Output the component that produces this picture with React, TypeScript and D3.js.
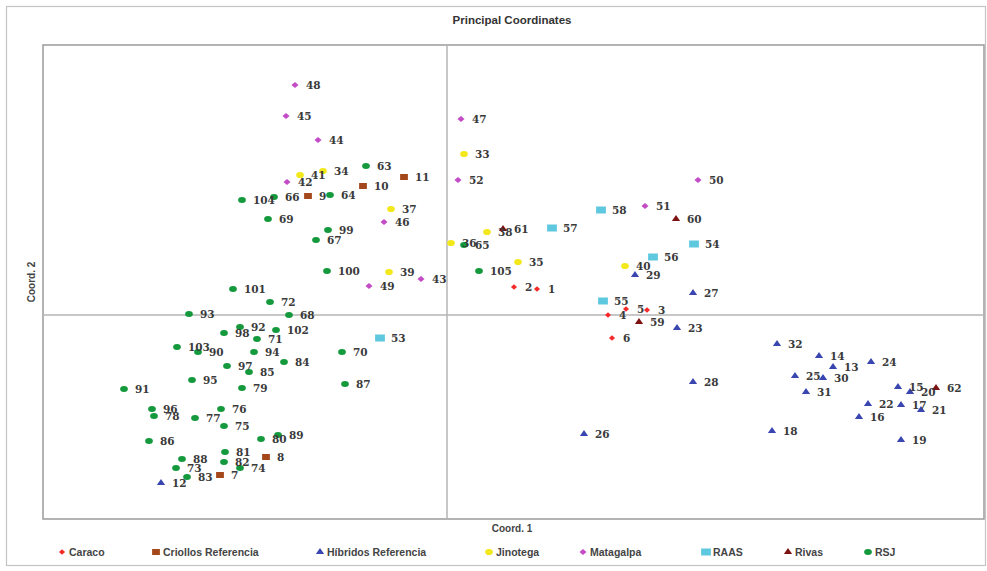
import React from 'react';
import * as d3 from 'd3';

type Pt = [string, number, number];

// Coord. 1, Coord. 2 values
const caraco: Pt[] = [
  ['1', 0.090, 0.026], ['2', 0.067, 0.028], ['3', 0.200, 0.005],
  ['4', 0.161, 0.000], ['5', 0.179, 0.006], ['6', 0.165, -0.023],
];
const criollos: Pt[] = [
  ['7', -0.227, -0.160], ['8', -0.181, -0.142], ['9', -0.139, 0.119],
  ['10', -0.084, 0.129], ['11', -0.043, 0.138],
];
const hibridos: Pt[] = [
  ['12', -0.286, -0.168], ['13', 0.386, -0.052], ['14', 0.372, -0.041],
  ['15', 0.451, -0.072], ['16', 0.412, -0.102], ['17', 0.454, -0.090],
  ['18', 0.325, -0.116], ['19', 0.454, -0.125], ['20', 0.463, -0.077],
  ['21', 0.474, -0.095], ['22', 0.421, -0.089], ['23', 0.230, -0.013],
  ['24', 0.424, -0.047], ['25', 0.348, -0.061], ['26', 0.137, -0.119],
  ['27', 0.246, 0.022], ['28', 0.246, -0.067], ['29', 0.188, 0.040],
  ['30', 0.376, -0.063], ['31', 0.359, -0.077], ['32', 0.330, -0.029],
];
const jinotega: Pt[] = [
  ['33', 0.017, 0.161], ['34', -0.124, 0.144], ['35', 0.071, 0.053],
  ['36', 0.004, 0.072], ['37', -0.056, 0.106], ['38', 0.040, 0.083],
  ['39', -0.058, 0.043], ['40', 0.178, 0.049], ['41', -0.147, 0.140],
];
const matagalpa: Pt[] = [
  ['42', -0.160, 0.133], ['43', -0.026, 0.036], ['44', -0.129, 0.175],
  ['45', -0.161, 0.199], ['46', -0.063, 0.093], ['47', 0.014, 0.196],
  ['48', -0.152, 0.230], ['49', -0.078, 0.029], ['50', 0.251, 0.135],
  ['51', 0.198, 0.109], ['52', 0.011, 0.135],
];
const raas: Pt[] = [
  ['53', -0.067, -0.023], ['54', 0.247, 0.071], ['55', 0.156, 0.014],
  ['56', 0.206, 0.058], ['57', 0.105, 0.087], ['58', 0.154, 0.105],
];
const rivas: Pt[] = [
  ['59', 0.192, -0.007], ['60', 0.229, 0.096], ['61', 0.056, 0.086],
  ['62', 0.489, -0.073],
];
const rsj: Pt[] = [
  ['63', -0.081, 0.149], ['64', -0.117, 0.120], ['65', 0.017, 0.070],
  ['66', -0.173, 0.118], ['67', -0.131, 0.075], ['68', -0.158, 0.000],
  ['69', -0.179, 0.096], ['70', -0.105, -0.037], ['71', -0.190, -0.024],
  ['72', -0.177, 0.013], ['73', -0.271, -0.153], ['74', -0.207, -0.153],
  ['75', -0.223, -0.111], ['76', -0.226, -0.094], ['77', -0.252, -0.103],
  ['78', -0.293, -0.101], ['79', -0.205, -0.073], ['80', -0.186, -0.124],
  ['81', -0.222, -0.137], ['82', -0.223, -0.147], ['83', -0.260, -0.162],
  ['84', -0.163, -0.047], ['85', -0.198, -0.057], ['86', -0.298, -0.126],
  ['87', -0.102, -0.069], ['88', -0.265, -0.144], ['89', -0.169, -0.120],
  ['90', -0.249, -0.037], ['91', -0.323, -0.074], ['92', -0.207, -0.012],
  ['93', -0.258, 0.001], ['94', -0.193, -0.037], ['95', -0.255, -0.065],
  ['96', -0.295, -0.094], ['97', -0.220, -0.051], ['98', -0.223, -0.018],
  ['99', -0.119, 0.085], ['100', -0.120, 0.044], ['101', -0.214, 0.026],
  ['102', -0.171, -0.015], ['103', -0.270, -0.032], ['104', -0.205, 0.115],
  ['105', 0.032, 0.044],
];

const seriesNames = ['Caraco', 'Criollos Referencia', 'Híbridos Referencia', 'Jinotega', 'Matagalpa', 'RAAS', 'Rivas', 'RSJ'];
const seriesData = [caraco, criollos, hibridos, jinotega, matagalpa, raas, rivas, rsj];

const xDomain = [-0.404, 0.537];
const yDomain = [-0.204, 0.270];

// styles
const styles = [
  { color: '#f52a2a', sym: d3.symbolDiamond2, size: 20, sx: 1.1 },
  { color: '#a4481c', sym: d3.symbolSquare, size: 36, sx: 1.3 },
  { color: '#3a46b0', sym: d3.symbolTriangle, size: 22, sx: 1.15 },
  { color: '#f2e81c', sym: d3.symbolCircle, size: 30, sx: 1.25 },
  { color: '#c34cc6', sym: d3.symbolDiamond2, size: 24, sx: 1.15 },
  { color: '#5ec8df', sym: d3.symbolSquare, size: 49, sx: 1.4 },
  { color: '#7d1212', sym: d3.symbolTriangle, size: 22, sx: 1.15 },
  { color: '#149a3c', sym: d3.symbolCircle, size: 28, sx: 1.3 },
];

const W = 987, H = 571;
const plot = { left: 43, top: 45, right: 984, bottom: 519 };
const legendX = [62, 156, 320, 489, 583, 706, 788, 868];

export default function App() {
  const x = d3.scaleLinear().domain(xDomain).range([plot.left, plot.right]);
  const y = d3.scaleLinear().domain(yDomain).range([plot.bottom, plot.top]);
  const paths = styles.map(s => d3.symbol().type(s.sym).size(s.size)() as string);
  const sans = '"Liberation Sans", Arial, sans-serif';
  return (
    <svg width={W} height={H} style={{ position: 'absolute', left: 0, top: 0, background: '#fff' }}>
      <rect x={6.5} y={6.5} width={979} height={559} fill="#fff" stroke="#c4c4c4" strokeWidth={1.2} />
      <text x={512} y={24} textAnchor="middle" fontFamily={sans} fontWeight="bold" fontSize={11.5} fill="#333">Principal Coordinates</text>
      <rect x={plot.left} y={plot.top} width={plot.right - plot.left} height={plot.bottom - plot.top} fill="#fff" stroke="#9a9a9a" strokeWidth={1.5} />
      <line x1={x(0)} x2={x(0)} y1={plot.top} y2={plot.bottom} stroke="#b4b4b4" strokeWidth={1.5} />
      <line x1={plot.left} x2={plot.right} y1={y(0)} y2={y(0)} stroke="#b4b4b4" strokeWidth={1.5} />
      <text x={512} y={532} textAnchor="middle" fontFamily={sans} fontWeight="bold" fontSize={10} fill="#444">Coord. 1</text>
      <text transform={`translate(35,282) rotate(-90)`} textAnchor="middle" fontFamily={sans} fontWeight="bold" fontSize={10} fill="#444">Coord. 2</text>
      {seriesData.map((data, si) => (
        <g key={si} fill={styles[si].color}>
          {data.map(d => (
            <path key={d[0]} d={paths[si]} transform={`translate(${x(d[1])},${y(d[2])}) scale(${styles[si].sx},1)`} />
          ))}
        </g>
      ))}
      {seriesData.map((data, si) => (
        <g key={'l' + si} fontFamily='"DejaVu Serif", serif' fontWeight="bold" fontSize={10.5} fill="#3a3a3a">
          {data.map(d => (
            <text key={d[0]} x={x(d[1]) + 11} y={y(d[2]) + 4}>{d[0]}</text>
          ))}
        </g>
      ))}
      {seriesNames.map((n, i) => (
        <g key={n} transform={`translate(${legendX[i]},552)`}>
          <path d={paths[i]} fill={styles[i].color} transform={`scale(${styles[i].sx},1)`} />
          <text x={7} y={4} fontFamily={sans} fontWeight="bold" fontSize={10.5} fill="#444">{n}</text>
        </g>
      ))}
    </svg>
  );
}
